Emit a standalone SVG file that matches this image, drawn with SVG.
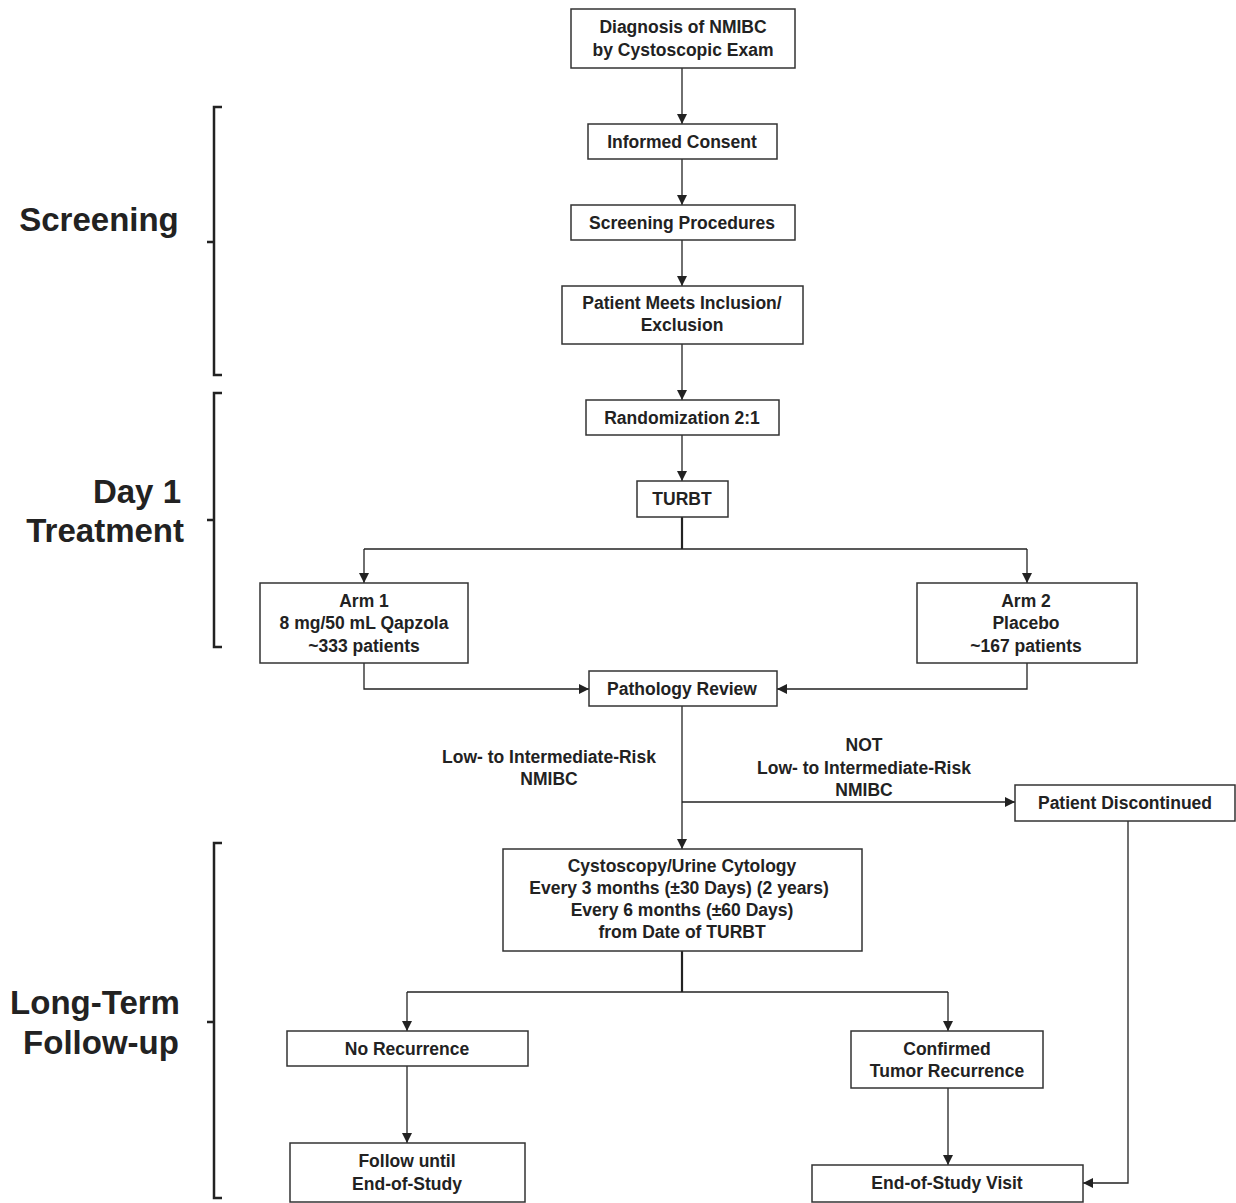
<svg xmlns="http://www.w3.org/2000/svg" width="1236" height="1203" viewBox="0 0 1236 1203">
<style>
.b{fill:#fff;stroke:#333;stroke-width:1.5}
.t{font-family:"Liberation Sans",Arial,sans-serif;font-weight:bold;font-size:17.5px;fill:#222;text-anchor:middle}
.big{font-family:"Liberation Sans",Arial,sans-serif;font-weight:bold;font-size:33px;fill:#222}
.c{fill:none;stroke:#222;stroke-width:1.3}
.k{fill:none;stroke:#222;stroke-width:2.2}
.br{fill:none;stroke:#222;stroke-width:2.5}
</style>
<defs>
<marker id="a" viewBox="0 0 10 10" refX="10" refY="5" markerWidth="10" markerHeight="10" markerUnits="userSpaceOnUse" orient="auto"><path d="M0,0L10,5L0,10z" fill="#222"/></marker>
</defs>
<rect width="1236" height="1203" fill="#fff"/>
<g id="labels">
<text class="big" x="99" y="231" text-anchor="middle">Screening</text>
<text class="big" x="181" y="503" text-anchor="end">Day 1</text>
<text class="big" x="184" y="542" text-anchor="end">Treatment</text>
<text class="big" x="95" y="1014" text-anchor="middle">Long-Term</text>
<text class="big" x="101" y="1054" text-anchor="middle">Follow-up</text>
</g>
<g id="brackets">
<path class="br" d="M222,107H214V375H222M214,242H207"/>
<path class="br" d="M222,393H214V647H222M214,520H207"/>
<path class="br" d="M222,843H214V1198H222M214,1022H207"/>
</g>
<g id="connectors">
<path class="c" d="M682,68V124" marker-end="url(#a)"/>
<path class="c" d="M682,159V205" marker-end="url(#a)"/>
<path class="c" d="M682,240V286" marker-end="url(#a)"/>
<path class="c" d="M682,344V400" marker-end="url(#a)"/>
<path class="c" d="M682,435V481" marker-end="url(#a)"/>
<path class="k" d="M682,517V549"/>
<path class="c" d="M364,549H1027"/>
<path class="c" d="M364,549V583" marker-end="url(#a)"/>
<path class="c" d="M1027,549V583" marker-end="url(#a)"/>
<path class="c" d="M364,663V689H589" marker-end="url(#a)"/>
<path class="c" d="M1027,663V689H777" marker-end="url(#a)"/>
<path class="c" d="M682,706V849" marker-end="url(#a)"/>
<path class="c" d="M682,802H1015" marker-end="url(#a)"/>
<path class="c" d="M1128,821V1183H1083" marker-end="url(#a)"/>
<path class="k" d="M682,951V992"/>
<path class="c" d="M407,992H948"/>
<path class="c" d="M407,992V1031" marker-end="url(#a)"/>
<path class="c" d="M948,992V1031" marker-end="url(#a)"/>
<path class="c" d="M407,1066V1143" marker-end="url(#a)"/>
<path class="c" d="M948,1088V1165" marker-end="url(#a)"/>
<text class="t" x="549" y="763">Low- to Intermediate-Risk</text>
<text class="t" x="549" y="785">NMIBC</text>
<text class="t" x="864" y="751">NOT</text>
<text class="t" x="864" y="774">Low- to Intermediate-Risk</text>
<text class="t" x="864" y="796">NMIBC</text>
</g>
<g id="n1"><rect class="b" x="571" y="9" width="224" height="59"/><text class="t" x="683" y="33">Diagnosis  of NMIBC</text><text class="t" x="683" y="56">by Cystoscopic  Exam</text></g>
<g id="n2"><rect class="b" x="588" y="124" width="189" height="35"/><text class="t" x="682" y="148">Informed Consent</text></g>
<g id="n3"><rect class="b" x="571" y="205" width="224" height="35"/><text class="t" x="682" y="229">Screening Procedures</text></g>
<g id="n4"><rect class="b" x="562" y="286" width="241" height="58"/><text class="t" x="682" y="309">Patient Meets Inclusion/</text><text class="t" x="682" y="331">Exclusion</text></g>
<g id="n5"><rect class="b" x="586" y="400" width="193" height="35"/><text class="t" x="682" y="424">Randomization 2:1</text></g>
<g id="n6"><rect class="b" x="637" y="481" width="91" height="36"/><text class="t" x="682" y="505">TURBT</text></g>
<g id="n7"><rect class="b" x="260" y="583" width="208" height="80"/><text class="t" x="364" y="607">Arm 1</text><text class="t" x="364" y="629">8 mg/50 mL Qapzola</text><text class="t" x="364" y="652">~333 patients</text></g>
<g id="n8"><rect class="b" x="917" y="583" width="220" height="80"/><text class="t" x="1026" y="607">Arm 2</text><text class="t" x="1026" y="629">Placebo</text><text class="t" x="1026" y="652">~167 patients</text></g>
<g id="n9"><rect class="b" x="589" y="671" width="188" height="35"/><text class="t" x="682" y="695">Pathology Review</text></g>
<g id="n10"><rect class="b" x="1015" y="785" width="220" height="36"/><text class="t" x="1125" y="809">Patient Discontinued</text></g>
<g id="n11"><rect class="b" x="503" y="849" width="359" height="102"/><text class="t" x="682" y="872">Cystoscopy/Urine  Cytology</text><text class="t" x="679" y="894">Every 3 months (±30 Days) (2 years)</text><text class="t" x="682" y="916">Every 6 months (±60 Days)</text><text class="t" x="682" y="938">from Date of TURBT</text></g>
<g id="n12"><rect class="b" x="287" y="1031" width="241" height="35"/><text class="t" x="407" y="1055">No Recurrence</text></g>
<g id="n13"><rect class="b" x="851" y="1031" width="192" height="57"/><text class="t" x="947" y="1055">Confirmed</text><text class="t" x="947" y="1077">Tumor Recurrence</text></g>
<g id="n14"><rect class="b" x="290" y="1143" width="235" height="59"/><text class="t" x="407" y="1167">Follow until</text><text class="t" x="407" y="1190">End-of-Study</text></g>
<g id="n15"><rect class="b" x="812" y="1165" width="271" height="37"/><text class="t" x="947" y="1189">End-of-Study  Visit</text></g>
</svg>
